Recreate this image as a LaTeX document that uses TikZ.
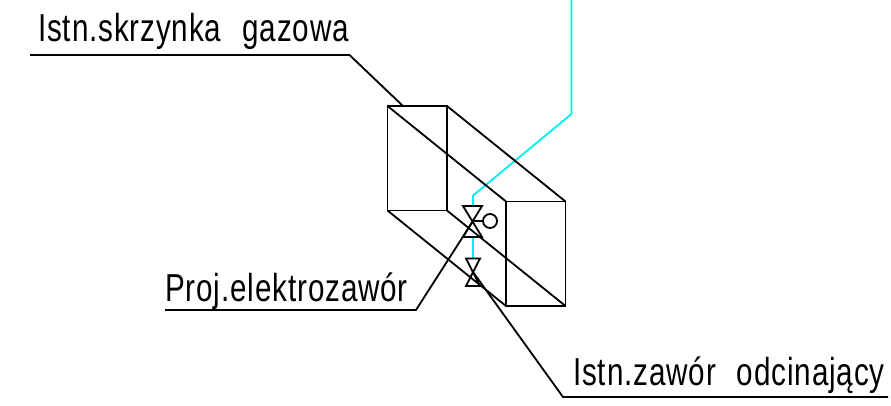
\documentclass[tikz,border=0pt]{standalone}
\usepackage{fontspec}
\setmainfont[FakeStretch=0.76,WordSpace=2.3,LetterSpace=2.2]{Liberation Sans}
\definecolor{pipecyan}{RGB}{0,240,240}
\tikzset{
	line/.style={line width=1.8pt, black},
	pipe/.style={line width=1.8pt, pipecyan},
	tag/.style={anchor=base west, inner sep=0pt, font=\fontsize{39}{39}\selectfont}
}
\begin{document}
\begin{tikzpicture}[x=1pt, y=-1pt]
	\useasboundingbox (0,0) rectangle (891,405);
	\coordinate (a1) at (387.5,106);
	\coordinate (a2) at (447,106);
	\coordinate (a3) at (447,210.5);
	\coordinate (a4) at (387.5,210.5);
	\coordinate (b1) at (506,201.5);
	\coordinate (b2) at (565.5,201.5);
	\coordinate (b3) at (565.5,306);
	\coordinate (b4) at (506,306);
	\coordinate (pipetop) at (571.5,0);
	\coordinate (pipebend) at (571.5,114);
	\coordinate (pipeiso) at (473,195.5);
	\coordinate (valveAin) at (473,206);
	\coordinate (valveAc) at (473,221);
	\coordinate (valveAout) at (473,237);
	\coordinate (valveBin) at (473,258.5);
	\coordinate (valveBc) at (473,272);
	\draw[pipe] (pipetop) -- (pipebend) -- (pipeiso) -- (valveAin);
	\draw[pipe] (valveAout) -- (valveBin);
	\draw[line] (a1) -- (a2) -- (a3) -- (a4) -- cycle;
	\draw[line] (b1) -- (b2) -- (b3) -- (b4) -- cycle;
	\foreach \i in {1,2,3,4}
	\draw[line] (a\i) -- (b\i);
	\draw[line] (463,206) -- (482,206) -- (463,237) -- (482,237) -- cycle;
	\draw[line] (466,258.5) -- (480,258.5) -- (466,286) -- (480,286) -- cycle;
	\node[line, draw, circle, minimum size=14pt, inner sep=0pt] (coil) at (490,221) {};
	\draw[line] (valveAc) -- (coil);
	\node[tag] (box) at (38,41) {Istn.skrzynka gazowa};
	\node[tag] (elvalve) at (165,301) {Proj.elektrozawór};
	\node[tag] (shutoff) at (573,385) {Istn.zawór odcinający};
	\coordinate (boxA) at (30,55);
	\coordinate (boxB) at (349.5,55);
	\coordinate (boxC) at (403,106);
	\coordinate (elA) at (165,310);
	\coordinate (elB) at (416,310);
	\coordinate (shA) at (888,397);
	\coordinate (shB) at (563,397);
	\draw[line] (boxA) -- (boxB) -- (boxC);
	\draw[line] (elA) -- (elB) -- (valveAc);
	\draw[line] (shA) -- (shB) -- (valveBc);
\end{tikzpicture}
\end{document}
